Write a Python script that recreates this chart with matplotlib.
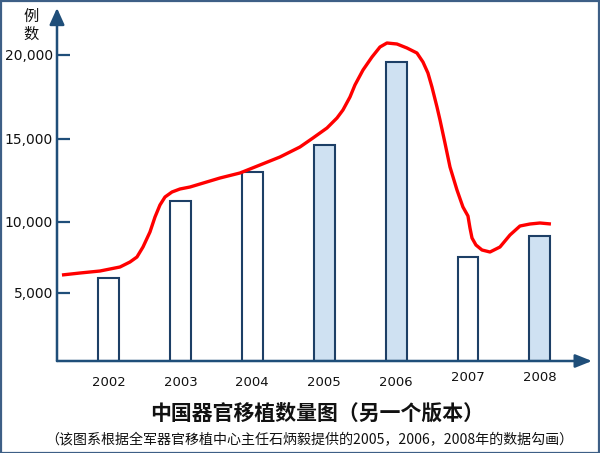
import numpy as np
import matplotlib
matplotlib.use("Agg")
import matplotlib.pyplot as plt
import matplotlib.transforms as mtransforms
from matplotlib.patches import Rectangle

# ---------------- data ----------------
years = ["2002", "2003", "2004", "2005", "2006", "2007", "2008"]
bar_values = [6050, 11280, 12990, 14630, 19590, 7540, 9010]
highlighted = [False, False, False, True, True, False, True]  # years with source data

# red trend curve (fractional years, value)
curve_years = [2001.353, 2001.604, 2001.882, 2002.160, 2002.299, 2002.396, 2002.480,
               2002.577, 2002.647, 2002.716, 2002.786, 2002.883, 2002.994, 2003.134,
               2003.273, 2003.551, 2003.829, 2004.107, 2004.385, 2004.663, 2004.844,
               2005.039, 2005.178, 2005.261, 2005.359, 2005.428, 2005.540, 2005.665,
               2005.776, 2005.873, 2006.012, 2006.151, 2006.290, 2006.374, 2006.443,
               2006.499, 2006.569, 2006.611, 2006.680, 2006.750, 2006.847, 2006.930,
               2007.000, 2007.028, 2007.056, 2007.111, 2007.195, 2007.306, 2007.445,
               2007.584, 2007.723, 2007.862, 2008.001, 2008.154]
curve_values = [6268, 6408, 6549, 6831, 7183, 7535, 8239,
                9296, 10301, 11024, 11506, 11807, 11988, 12108,
                12289, 12651, 12952, 13434, 13916, 14518, 15060,
                15655, 16250, 16726, 17500, 18214, 19107, 19881,
                20476, 20714, 20655, 20417, 20119, 19583, 18929,
                18095, 16905, 16131, 14759, 13313, 11928, 10904,
                10361, 9577, 8873, 8380, 8028, 7887, 8239,
                9084, 9718, 9859, 9930, 9859]

ytick_values = [5000, 10000, 15000, 20000]
ytick_labels = ["5,000", "10,000", "15,000", "20,000"]

title = "中国器官移植数量图（另一个版本）"
subtitle = "（该图系根据全军器官移植中心主任石炳毅提供的2005，2006，2008年的数据勾画）"
ylabel = "例\n数"

# ---------------- style ----------------
AXIS = "#1f4e79"
EDGE = "#1d3f66"
FILL = "#cfe1f2"
CJK = ["Noto Sans CJK SC", "DejaVu Sans"]

# hand-drawn, uneven vertical scale of the original
_v = np.array([-5000, 0, 5000, 10000, 15000, 20000, 25000], float)
_p = np.array([-68, 0, 68, 139, 222, 306, 390], float)
def fwd(v):
    return np.interp(v, _v, _p)
def inv(p):
    return np.interp(p, _p, _v)

W, H = 600, 453
fig = plt.figure(figsize=(W / 100, H / 100), dpi=100)
ax = fig.add_axes([57 / W, (H - 361) / H, (592 - 57) / W, (361 - 8) / H])
ax.set_yscale("function", functions=(fwd, inv))

x0 = int(years[0])
xs = np.arange(len(years))
colors = [FILL if h else "white" for h in highlighted]
ax.bar(xs, bar_values, width=0.29, color=colors, edgecolor=EDGE, linewidth=1.5, zorder=2)

cx = np.array(curve_years) - x0
ax.plot(cx, curve_values, color="#ff0000", lw=2.4, solid_capstyle="butt",
        solid_joinstyle="round", zorder=3)

ax.set_xlim(-0.716, 6.725)
ax.set_ylim(0, inv(353))

for s in ax.spines.values():
    s.set_visible(False)
ax.patch.set_alpha(0)

ax.set_yticks(ytick_values)
ax.set_yticklabels(ytick_labels, fontsize=10, color="#111111")
ax.tick_params(axis="y", direction="in", length=9.5, width=1.6, color=AXIS, pad=3)
ax.yaxis.set_minor_locator(matplotlib.ticker.NullLocator())
ax.set_xticks(xs)
ax.set_xticklabels(years, fontsize=9.5, color="#111111")
ax.tick_params(axis="x", length=0, pad=11)
# the last two year labels sit a little higher in the original
for lab in ax.get_xticklabels()[5:]:
    lab.set_transform(lab.get_transform() +
                      mtransforms.ScaledTranslation(0, 5 / 100, fig.dpi_scale_trans))

# axes with arrow heads
ax.annotate("", xy=(0, 1.0), xytext=(0, 0), xycoords="axes fraction",
            arrowprops=dict(arrowstyle="-|>,head_length=1.0,head_width=0.45",
                            color=AXIS, lw=1.8, shrinkA=0, shrinkB=0))
ax.annotate("", xy=(1.0, 0), xytext=(0, 0), xycoords="axes fraction",
            arrowprops=dict(arrowstyle="-|>,head_length=1.0,head_width=0.4",
                            color=AXIS, lw=1.8, shrinkA=0, shrinkB=0))

fig.text(31 / W, 1 - 25 / H, ylabel, ha="center", va="center", fontsize=11,
         family=CJK, linespacing=1.05, color="#111111")
fig.text(317 / W, 1 - 413 / H, title, ha="center", va="center", fontsize=15,
         fontweight="bold", family=CJK, color="#111111")
fig.text(309 / W, 1 - 440 / H, subtitle, ha="center", va="center", fontsize=10.1,
         family=CJK, color="#111111")

# figure border
fig.patches.append(Rectangle((0.001, 0.001), 0.997, 0.997, transform=fig.transFigure,
                             fill=False, edgecolor="#3d5f86", lw=1.6))

fig.savefig("out.png", dpi=100)
